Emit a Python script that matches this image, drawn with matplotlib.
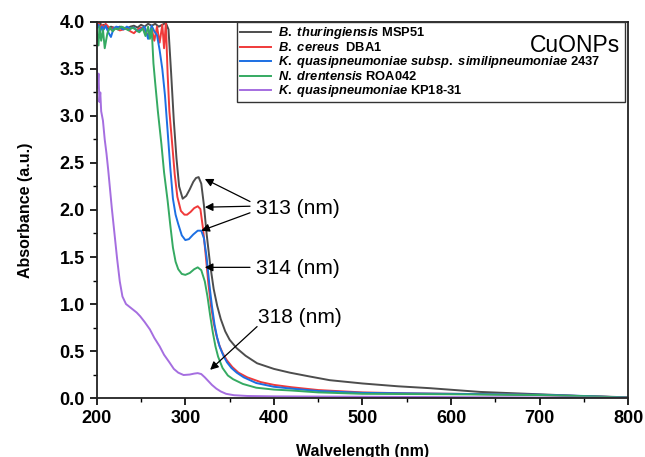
import numpy as np
import matplotlib.pyplot as plt

plt.rcParams['font.family'] = ['Liberation Sans', 'DejaVu Sans']
plt.rcParams['mathtext.fontset'] = 'custom'
plt.rcParams['mathtext.it'] = 'Liberation Sans:italic:bold'
plt.rcParams['mathtext.rm'] = 'Liberation Sans:bold'

# UV-vis spectra (wavelength nm, absorbance a.u.)
msp51_wl = [200, 202, 204, 206, 208, 210, 213, 216, 219, 222, 226, 230, 234, 238, 242, 246,
            250, 254, 258, 262, 266, 270, 274, 278, 281, 284, 287, 290, 293, 297, 301, 305,
            309, 312, 315, 318, 321, 324, 328, 332, 336, 340, 345, 350, 358, 368, 381, 400,
            418, 440, 463, 500, 540, 576, 633, 700, 746, 800]
msp51_abs = [3.98, 3.95, 3.99, 3.94, 3.97, 3.96, 3.93, 3.95, 3.94, 3.93, 3.95, 3.94, 3.93, 3.95, 3.96, 3.94,
             3.97, 3.95, 3.98, 3.96, 3.98, 3.95, 3.97, 3.99, 3.92, 3.45, 2.95, 2.55, 2.25, 2.12, 2.15, 2.22,
             2.30, 2.34, 2.35, 2.28, 2.05, 1.75, 1.42, 1.16, 0.98, 0.84, 0.71, 0.62, 0.53, 0.45, 0.37, 0.31,
             0.27, 0.23, 0.19, 0.155, 0.125, 0.105, 0.065, 0.04, 0.022, 0.008]

dba1_wl = [200, 202, 204, 206, 208, 210, 213, 216, 219, 222, 226, 230, 234, 238, 242, 246,
           250, 254, 258, 262, 265, 268, 271, 274, 276, 278, 280, 282, 285, 288, 291, 295,
           299, 302, 306, 310, 314, 317, 320, 323, 326, 329, 332, 335, 338, 342, 347, 353,
           360, 370, 385, 400, 420, 450, 500, 550, 600, 650, 700, 750, 800]
dba1_abs = [3.96, 3.99, 3.93, 3.97, 3.94, 3.98, 3.95, 3.92, 3.94, 3.93, 3.91, 3.92, 3.93, 3.90, 3.88, 3.92,
            3.94, 3.91, 3.86, 3.93, 3.80, 3.95, 3.78, 3.97, 3.72, 3.99, 3.45, 3.05, 2.72, 2.38, 2.14, 1.99,
            1.95, 1.95, 1.98, 2.02, 2.04, 2.01, 1.80, 1.52, 1.22, 0.98, 0.80, 0.67, 0.57, 0.48, 0.40, 0.33,
            0.27, 0.22, 0.17, 0.14, 0.115, 0.085, 0.06, 0.05, 0.045, 0.04, 0.032, 0.02, 0.006]

s2437_wl = [200, 202, 204, 206, 208, 210, 213, 216, 219, 222, 226, 230, 234, 238, 242, 246,
            250, 254, 258, 262, 265, 268, 271, 274, 277, 280, 283, 286, 289, 292, 296, 300,
            304, 309, 314, 318, 321, 324, 327, 330, 333, 336, 339, 343, 347, 352, 358, 366,
            380, 400, 420, 450, 500, 600, 700, 750, 800]
s2437_abs = [3.93, 3.97, 3.90, 3.95, 3.92, 3.96, 3.89, 3.84, 3.93, 3.95, 3.94, 3.92, 3.95, 3.93, 3.94, 3.90,
             3.92, 3.95, 3.82, 3.96, 3.90, 3.86, 3.70, 3.50, 3.22, 2.84, 2.45, 2.12, 1.95, 1.85, 1.73, 1.68,
             1.69, 1.74, 1.78, 1.78, 1.70, 1.50, 1.22, 0.98, 0.78, 0.64, 0.54, 0.45, 0.38, 0.32, 0.27, 0.22,
             0.16, 0.12, 0.10, 0.075, 0.055, 0.045, 0.035, 0.022, 0.005]

roa042_wl = [200, 202, 203, 205, 207, 209, 212, 215, 218, 221, 224, 228, 232, 236, 240, 244,
             248, 252, 255, 258, 260, 262, 264, 266, 269, 273, 276, 280, 283, 286, 289, 292,
             296, 300, 305, 310, 314, 318, 322, 325, 328, 331, 334, 337, 342, 348, 354, 365,
             380, 400, 420, 450, 500, 600, 700, 750, 800]
roa042_abs = [3.90, 3.75, 3.95, 3.80, 3.92, 3.72, 3.88, 3.94, 3.90, 3.93, 3.92, 3.95, 3.93, 3.91, 3.94, 3.92,
              3.89, 3.93, 3.85, 3.95, 3.82, 3.93, 3.56, 3.35, 3.05, 2.70, 2.40, 2.10, 1.84, 1.60, 1.45, 1.37,
              1.32, 1.31, 1.33, 1.37, 1.39, 1.36, 1.24, 1.08, 0.88, 0.70, 0.55, 0.44, 0.32, 0.24, 0.20, 0.15,
              0.11, 0.09, 0.08, 0.06, 0.045, 0.04, 0.032, 0.02, 0.005]

kp1831_wl = [200, 201, 202, 203, 204, 205, 207, 209, 211, 213, 215, 217, 220, 223, 226, 229,
             233, 237, 241, 245, 249, 254, 260, 265, 271, 276, 282, 287, 292, 298, 305, 310,
             314, 318, 322, 326, 330, 335, 340, 346, 355, 370, 400, 500, 600, 700, 800]
kp1831_abs = [3.55, 3.30, 3.45, 3.15, 3.25, 3.05, 2.95, 2.75, 2.60, 2.42, 2.22, 2.02, 1.75, 1.48, 1.24, 1.08,
              1.00, 0.97, 0.94, 0.91, 0.87, 0.81, 0.73, 0.64, 0.55, 0.46, 0.38, 0.31, 0.27, 0.245, 0.25, 0.26,
              0.265, 0.255, 0.22, 0.18, 0.14, 0.10, 0.07, 0.045, 0.03, 0.022, 0.018, 0.014, 0.01, 0.006, 0.002]

labels = [r'$\it{B.\ thuringiensis}$ MSP51',
          r'$\it{B.\ cereus}$  DBA1',
          r'$\it{K.\ quasipneumoniae\ subsp.\ similipneumoniae}$ 2437',
          r'$\it{N.\ drentensis}$ ROA042',
          r'$\it{K.\ quasipneumoniae}$ KP18-31']
colors = ['#4d4d4d', '#f03a3a', '#1c6fe3', '#35aa62', '#a56ee0']

fig = plt.figure(figsize=(6.45, 4.57), dpi=100)
ax = fig.add_axes([0.150, 0.129, 0.824, 0.823])

series = [(msp51_wl, msp51_abs), (dba1_wl, dba1_abs), (s2437_wl, s2437_abs),
          (roa042_wl, roa042_abs), (kp1831_wl, kp1831_abs)]
for (wl, a), lab, c in zip(series, labels, colors):
    ax.plot(wl, a, color=c, lw=1.4, label=lab)

ax.set_xlim(200, 800)
ax.set_ylim(0, 4.0)
ax.set_xticks(np.arange(200, 801, 100))
ax.set_xticks(np.arange(250, 800, 100), minor=True)
ax.set_yticks(np.arange(0, 4.01, 0.5))
ax.set_yticks(np.arange(0.25, 4.0, 0.5), minor=True)
ax.yaxis.set_major_formatter(plt.FormatStrFormatter('%.1f'))
ax.tick_params(which='major', direction='out', length=5, width=1.2, labelsize=13)
ax.tick_params(which='minor', direction='out', length=3, width=1.0)
for lbl in ax.get_xticklabels() + ax.get_yticklabels():
    lbl.set_fontweight('bold')
for s in ax.spines.values():
    s.set_linewidth(1.3)
    s.set_color('#222222')

ax.set_xlabel('Walvelength (nm)', fontsize=11.5, fontweight='bold', labelpad=12)
ax.set_ylabel('Absorbance (a.u.)', fontsize=11.5, fontweight='bold', labelpad=19)

leg = ax.legend(loc='upper left', bbox_to_anchor=(0.264, 0.785, 0.730, 0.215), mode='expand',
                frameon=True, fancybox=False, edgecolor='#333333', borderaxespad=0,
                fontsize=9.3, handlelength=2.4, handletextpad=0.55, labelspacing=0.0,
                borderpad=0.25, framealpha=1.0)
leg.get_frame().set_linewidth(1.0)
for t in leg.get_texts():
    t.set_fontweight('bold')

ax.text(0.985, 0.968, 'CuONPs', transform=ax.transAxes, ha='right', va='top',
        fontsize=16.5, zorder=10)

# peak annotations
arr = dict(arrowstyle='-|>', color='black', lw=0.9, mutation_scale=12, shrinkA=0, shrinkB=0)
ax.annotate('', xy=(322, 2.33), xytext=(373, 2.09), arrowprops=arr)
ax.annotate('', xy=(322, 2.03), xytext=(373, 2.04), arrowprops=arr)
ax.annotate('', xy=(318, 1.78), xytext=(373, 1.97), arrowprops=arr)
ax.text(380, 2.02, '313 (nm)', fontsize=15, va='center', ha='left')
ax.annotate('', xy=(322, 1.39), xytext=(373, 1.39), arrowprops=arr)
ax.text(380, 1.38, '314 (nm)', fontsize=15, va='center', ha='left')
ax.annotate('', xy=(328, 0.30), xytext=(381, 0.76), arrowprops=arr)
ax.text(382, 0.86, '318 (nm)', fontsize=15, va='center', ha='left')

fig.savefig('out.png', dpi=100)
